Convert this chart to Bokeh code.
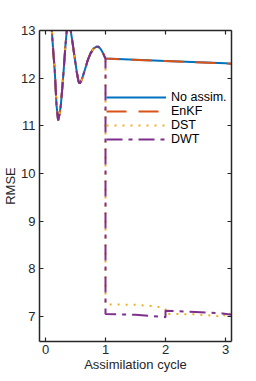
from bokeh.plotting import figure
from bokeh.models import LinearAxis, Legend, LegendItem, FixedTicker, Range1d
from bokeh.embed import file_html
from bokeh.resources import INLINE

# ---- data ----
t_pre = [0.0, 0.08, 0.105, 0.13, 0.155, 0.183, 0.21, 0.235, 0.256, 0.28, 0.305,
         0.33, 0.355, 0.39, 0.42, 0.45, 0.478, 0.52, 0.55, 0.57, 0.6, 0.65,
         0.7, 0.75, 0.8, 0.85, 0.883, 0.92, 0.96, 1.0]
rmse_pre = [16.0, 13.6, 13.0, 12.55, 12.14, 11.44, 11.11, 11.25, 11.44, 11.8, 12.2,
            12.65, 13.0, 13.2, 13.0, 12.75, 12.5, 12.14, 11.93, 11.89, 11.95, 12.15,
            12.36, 12.52, 12.62, 12.66, 12.66, 12.61, 12.52, 12.41]

no_assim_t = [2.0, 3.0, 3.1]
no_assim_v = [12.36, 12.31, 12.30]
enkf_t = [2.0, 3.0, 3.1]
enkf_v = [12.36, 12.31, 12.30]
dst_t = [1.0, 1.5, 1.85, 2.0, 2.0, 2.5, 2.8, 2.97, 3.0, 3.1]
dst_v = [7.25, 7.24, 7.21, 7.15, 7.05, 7.04, 7.01, 6.99, 7.09, 7.03]
dwt_t = [1.0, 1.5, 2.0, 2.0, 2.5, 2.95, 3.1]
dwt_v = [7.05, 7.03, 6.98, 7.115, 7.09, 7.06, 7.03]

labels = ["No assim.", "EnKF", "DST", "DWT"]
colors = ["#0072BD", "#D95319", "#EDB120", "#7E2F8E"]
dashes = ["solid", "20 12", "2 6", "16 6 4 6"]

x_ticks = [0, 1, 2, 3]
y_ticks = [7, 8, 9, 10, 11, 12, 13]

FONT = "Liberation Sans"
AX = "#262626"

p = figure(frame_width=192, frame_height=311, output_backend="svg",
           toolbar_location=None, x_range=Range1d(-0.1, 3.1),
           y_range=Range1d(6.47, 13.0), min_border_top=30,
           min_border_right=10, min_border_left=0, min_border_bottom=0)
p.outline_line_color = None
p.grid.visible = False
p.background_fill_color = "white"

series = [
    (t_pre + no_assim_t, rmse_pre + no_assim_v),
    (t_pre + enkf_t, rmse_pre + enkf_v),
    (t_pre + dst_t, rmse_pre + dst_v),
    (t_pre + dwt_t, rmse_pre + dwt_v),
]
renderers = []
for (xs, ys), c, d in zip(series, colors, dashes):
    r = p.line(xs, ys, line_color=c, line_width=2, line_dash=d)
    renderers.append(r)

def style_axis(ax, ticks, show_labels):
    ax.ticker = FixedTicker(ticks=ticks)
    ax.axis_line_color = AX
    ax.axis_line_width = 1.5
    ax.major_tick_line_color = AX
    ax.major_tick_line_width = 1.2
    ax.major_tick_in = 4
    ax.major_tick_out = 0
    ax.minor_tick_line_color = None
    ax.major_label_text_font = FONT
    ax.major_label_text_font_size = "13px"
    ax.major_label_text_color = AX if show_labels else None
    ax.axis_label_text_font = FONT
    ax.axis_label_text_font_size = "13px"
    ax.axis_label_text_font_style = "normal"
    ax.axis_label_text_color = AX

style_axis(p.xaxis[0], x_ticks, True)
style_axis(p.yaxis[0], y_ticks, True)
p.xaxis[0].axis_label = "Assimilation cycle"
p.yaxis[0].axis_label = "RMSE"
p.xaxis[0].major_label_standoff = 3
p.xaxis[0].axis_label_standoff = 0
p.yaxis[0].major_label_standoff = 4
p.yaxis[0].axis_label_standoff = 0

top = LinearAxis()
style_axis(top, x_ticks, False)
top.major_label_standoff = 0
p.add_layout(top, "above")
right = LinearAxis()
style_axis(right, y_ticks, False)
right.major_label_standoff = 0
p.add_layout(right, "right")

legend = Legend(items=[LegendItem(label=l, renderers=[r]) for l, r in zip(labels, renderers)],
                location=(67, 195))
legend.background_fill_alpha = 0
legend.border_line_color = None
legend.padding = 0
legend.margin = 0
legend.spacing = 0
legend.glyph_width = 60
legend.glyph_height = 12
legend.label_height = 12
legend.label_standoff = 5
legend.label_text_font = FONT
legend.label_text_font_size = "12.5px"
legend.label_text_color = "black"
legend.label_text_line_height = 0.9
p.add_layout(legend, "center")

open("out.html", "w").write(file_html(p, INLINE))
